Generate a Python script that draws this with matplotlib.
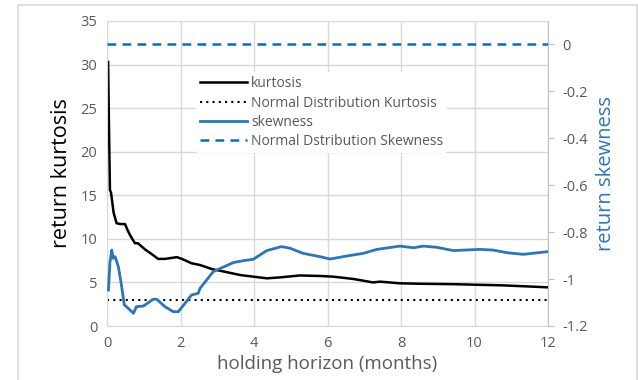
import numpy as np
import matplotlib.pyplot as plt
from matplotlib.patches import Rectangle

# kurtosis vs holding horizon (months)
kurt_x = [0.03, 0.05, 0.08, 0.11, 0.18, 0.26, 0.35, 0.49, 0.56, 0.63, 0.76, 0.84, 1.03, 1.2, 1.39, 1.58,
          1.9, 2.04, 2.3, 2.53, 2.88, 3.07, 3.62, 4.35, 4.71, 5.25, 5.8, 6.16, 6.7, 7.24, 7.43, 7.97,
          8.5, 9.42, 10.2, 10.78, 11.4, 11.97]
kurt_y = [30.3, 24.0, 15.6, 15.3, 13.0, 11.8, 11.7, 11.7, 11.0, 10.4, 9.5, 9.5, 8.8, 8.3, 7.7, 7.7,
          7.9, 7.7, 7.2, 7.0, 6.5, 6.35, 5.85, 5.47, 5.58, 5.8, 5.74, 5.66, 5.4, 5.0, 5.09, 4.9,
          4.85, 4.8, 4.72, 4.66, 4.55, 4.44]

# skewness vs holding horizon (months)
skew_x = [0.04, 0.08, 0.13, 0.17, 0.22, 0.31, 0.4, 0.47, 0.58, 0.72, 0.8, 0.99, 1.26, 1.35, 1.58, 1.8,
          1.94, 2.12, 2.3, 2.48, 2.53, 2.89, 2.98, 3.44, 3.71, 3.98, 4.35, 4.75, 4.98, 5.34, 5.8,
          6.07, 6.53, 6.97, 7.34, 7.97, 8.34, 8.61, 8.97, 9.42, 10.15, 10.51, 10.88, 11.33, 11.97]
skew_y = [-1.047, -0.93, -0.877, -0.912, -0.905, -0.948, -1.033, -1.11, -1.125, -1.146, -1.118, -1.115,
          -1.086, -1.086, -1.118, -1.139, -1.139, -1.104, -1.068, -1.061, -1.04, -0.969, -0.962, -0.93,
          -0.922, -0.916, -0.879, -0.862, -0.869, -0.891, -0.905, -0.915, -0.902, -0.891, -0.874,
          -0.86, -0.867, -0.86, -0.865, -0.879, -0.874, -0.877, -0.888, -0.895, -0.884]

normal_kurt = 3
normal_skew = 0

gray = '#595959'
grid = '#d9d9d9'
blue = '#2e75b6'

plt.rcParams['font.family'] = ['Open Sans', 'DejaVu Sans']

fig = plt.figure(figsize=(6.38, 3.8), dpi=100)
fig.patches.append(Rectangle((18 / 638, -0.1), 619 / 638, 1.1 - 5 / 380, transform=fig.transFigure,
                             fill=False, edgecolor='#d9d9d9', lw=1.2))
ax = fig.add_axes([107 / 638, 1 - 326 / 380, 441 / 638, 305 / 380])
ax2 = ax.twinx()

l1, = ax.plot(kurt_x, kurt_y, color='black', lw=1.8, label='kurtosis')
l2 = ax.axhline(normal_kurt, color='black', lw=1.5, ls=(0, (1, 2)), label='Normal Distribution Kurtosis')
l3, = ax2.plot(skew_x, skew_y, color=blue, lw=2, label='skewness')
l4 = ax2.axhline(normal_skew, color='#0070c0', lw=1.8, ls=(0, (3.5, 2.5)), label='Normal Dstribution Skewness')

ax.set_xlim(0, 12)
ax.set_ylim(0, 35)
ax.set_xticks(range(0, 13, 2))
ax.set_yticks(range(0, 36, 5))
ax2.set_ylim(-1.2, 0.098)
ax2.set_yticks([0, -0.2, -0.4, -0.6, -0.8, -1, -1.2])
ax2.set_yticklabels(['0', '-0.2', '-0.4', '-0.6', '-0.8', '-1', '-1.2'])

ax.grid(True, color=grid, lw=1)
ax.set_axisbelow(True)
for a in (ax, ax2):
    for s in a.spines.values():
        s.set_color(grid)
    a.spines['top'].set_visible(False)
ax.spines['right'].set_visible(False)
ax2.spines['left'].set_visible(False)
ax2.spines['bottom'].set_visible(False)
ax2.spines['right'].set_color('#bfbfbf')

ax.tick_params(axis='y', length=0, labelsize=10.5, labelcolor=gray, pad=7)
ax.tick_params(axis='x', length=0, labelsize=10.5, labelcolor=gray, pad=7)
ax2.tick_params(axis='y', length=4, color='#bfbfbf', labelsize=10.5, labelcolor=gray, pad=6)

ax.set_xlabel('holding horizon (months)', fontsize=13.5, color=gray, labelpad=3)
ax.set_ylabel('return kurtosis', fontsize=15.5, color='black', labelpad=6)
ax2.set_ylabel('return skewness', fontsize=14.5, color=blue, labelpad=6)

leg = ax.legend(handles=[l1, l2, l3, l4], loc='upper left', bbox_to_anchor=(0.185, 0.855),
                frameon=True, fontsize=10, handlelength=3.4, handletextpad=0.3, labelspacing=0.3,
                borderpad=0.3)
leg.get_frame().set_edgecolor('none')
leg.get_frame().set_facecolor('white')
leg.get_frame().set_alpha(1)
for t in leg.get_texts():
    t.set_color(gray)
leg.set_zorder(5)

fig.savefig('out.png', dpi=100)
